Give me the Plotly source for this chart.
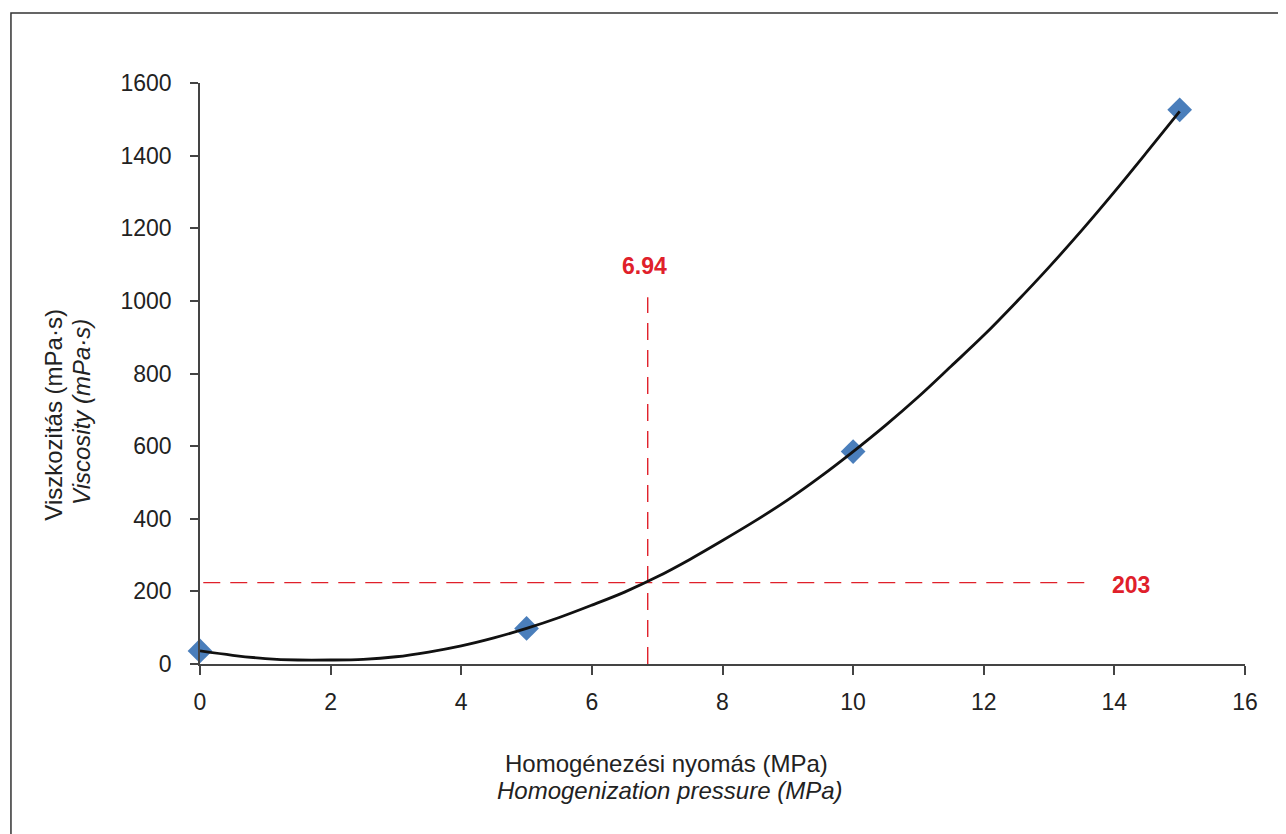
import plotly.graph_objects as go

# Measured data points (blue diamonds)
pressure = [0, 5, 10, 15]
viscosity = [36, 98, 585, 1526]

# Trendline
curve_x = [0, 0.5, 1, 1.5, 2, 2.5, 3, 3.5, 4, 4.5, 5, 5.5, 6, 6.5, 7, 7.5,
           8, 8.5, 9, 9.5, 10, 10.5, 11, 11.5, 12, 12.5, 13, 13.5, 14, 14.5, 15]
curve_y = [36, 24, 15, 11, 11, 13, 20, 33, 50, 72, 98, 128, 162, 198, 240, 288,
           340, 394, 452, 516, 585, 658, 736, 820, 905, 997, 1093, 1194, 1300, 1410, 1522]

# Reference (dashed) lines
vline_x = [6.855, 6.855]
vline_y = [0, 1010]
hline_x = [0.05, 13.67]
hline_y = [224, 224]

label_x_text = "6.94"
label_y_text = "203"

x_ticks = [0, 2, 4, 6, 8, 10, 12, 14, 16]
y_ticks = [0, 200, 400, 600, 800, 1000, 1200, 1400, 1600]

RED = "#e0202a"
FONT = "Liberation Sans, Arial, sans-serif"

fig = go.Figure()
fig.add_trace(go.Scatter(x=vline_x, y=vline_y, mode="lines",
                         line=dict(color=RED, width=1.4, dash="17px,10px"),
                         showlegend=False, hoverinfo="skip"))
fig.add_trace(go.Scatter(x=hline_x, y=hline_y, mode="lines",
                         line=dict(color=RED, width=1.2, dash="17px,10px"),
                         showlegend=False, hoverinfo="skip"))
fig.add_trace(go.Scatter(x=pressure, y=viscosity, mode="markers",
                         marker=dict(symbol="diamond", size=19, color="#4a7ebb",
                                     line=dict(width=0)),
                         showlegend=False, cliponaxis=False))
fig.add_trace(go.Scatter(x=curve_x, y=curve_y, mode="lines",
                         line=dict(color="#111111", width=2.8, shape="spline"),
                         showlegend=False))

fig.add_annotation(x=6.806, y=1096, xref="x", yref="y", text="<b>" + label_x_text + "</b>",
                   showarrow=False, xanchor="center", yanchor="middle",
                   font=dict(family=FONT, size=23, color=RED))
fig.add_annotation(x=14.25, y=217, xref="x", yref="y", text="<b>" + label_y_text + "</b>",
                   showarrow=False, xanchor="center", yanchor="middle",
                   font=dict(family=FONT, size=23, color=RED))

# Axis titles
title_font = dict(family=FONT, size=24, color="#222222")
common = dict(xref="paper", yref="paper", showarrow=False, font=title_font,
              xanchor="center", yanchor="middle")
fig.add_annotation(x=0.446, y=-0.172, text="Homogénezési nyomás (MPa)", **common)
fig.add_annotation(x=0.449, y=-0.217, text="<i>Homogenization pressure (MPa)</i>", **common)
fig.add_annotation(x=-0.1400, y=0.4286, textangle=-90, text="Viszkozitás (mPa·s)", **common)
fig.add_annotation(x=-0.1140, y=0.4337, textangle=-90, text="<i>Viscosity (mPa·s)</i>", **common)

# Outer frame (top and left edges visible)
fig.add_shape(type="rect", xref="paper", yref="paper",
              x0=-0.1809, x1=1.06, y0=-0.32, y1=1.1205,
              line=dict(color="#333333", width=1.5), fillcolor="rgba(0,0,0,0)", layer="below")

fig.update_xaxes(range=[0, 16], tickvals=x_ticks, showgrid=False, zeroline=False,
                 showline=True, linecolor="#444444", linewidth=1.5,
                 ticks="outside", ticklen=9, tickwidth=1.5, tickcolor="#444444",
                 ticklabelstandoff=8,
                 tickfont=dict(family=FONT, size=23, color="#222222"))
fig.update_yaxes(range=[0, 1600], tickvals=y_ticks, showgrid=False, zeroline=False,
                 showline=True, linecolor="#444444", linewidth=1.5,
                 ticks="outside", ticklen=8, tickwidth=1.5, tickcolor="#444444",
                 ticklabelstandoff=14,
                 tickfont=dict(family=FONT, size=23, color="#222222"))

# page body has an 8px margin, so the figure is offset by 8px
fig.update_layout(width=1278, height=826, margin=dict(l=192, r=41, t=75, b=170),
                  plot_bgcolor="white", paper_bgcolor="white")

fig.write_html("out.html")
